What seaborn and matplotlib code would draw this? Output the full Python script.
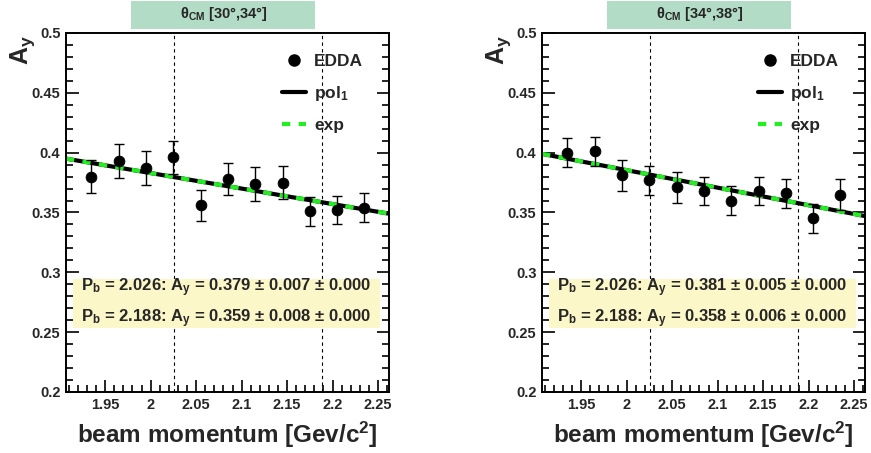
import numpy as np
import pandas as pd
import matplotlib
matplotlib.use("Agg")
import matplotlib.pyplot as plt
import seaborn as sns
from matplotlib.lines import Line2D
from matplotlib.patches import Rectangle
from matplotlib.ticker import MultipleLocator

# data
momentum = [1.935, 1.965, 1.995, 2.025, 2.055, 2.085, 2.115, 2.145, 2.175, 2.205, 2.235]

ay_left = [0.380, 0.393, 0.387, 0.396, 0.356, 0.378, 0.374, 0.375, 0.351, 0.352, 0.354]
err_left = [0.014, 0.014, 0.014, 0.014, 0.013, 0.013, 0.014, 0.014, 0.012, 0.012, 0.012]

ay_right = [0.400, 0.401, 0.381, 0.377, 0.371, 0.368, 0.360, 0.368, 0.366, 0.345, 0.365]
err_right = [0.012, 0.012, 0.013, 0.012, 0.013, 0.012, 0.012, 0.012, 0.012, 0.012, 0.013]

fit_x = [1.907, 2.262]
fit_left = [0.395, 0.349]
fit_right = [0.399, 0.347]

pb_lines = [2.026, 2.188]

titles = ["$\\mathbf{\\theta_{CM}}$ [30°,34°]", "$\\mathbf{\\theta_{CM}}$ [34°,38°]"]
results_left = [("2.026", "0.379", "0.007", "0.000"), ("2.188", "0.359", "0.008", "0.000")]
results_right = [("2.026", "0.381", "0.005", "0.000"), ("2.188", "0.358", "0.006", "0.000")]

sns.set_theme(style="ticks")
plt.rcParams["font.family"] = ["Liberation Sans", "DejaVu Sans"]
plt.rcParams["font.weight"] = "bold"
plt.rcParams["mathtext.fontset"] = "custom"
plt.rcParams["mathtext.rm"] = "Liberation Sans:bold"
plt.rcParams["mathtext.it"] = "Liberation Sans:bold"
plt.rcParams["mathtext.bf"] = "Liberation Sans:bold"

fig = plt.figure(figsize=(8.71, 4.53), dpi=100)
panels = [
    (0.0758, ay_left, err_left, fit_left, titles[0], results_left),
    (0.6223, ay_right, err_right, fit_right, titles[1], results_right),
]

fmt = plt.FuncFormatter(lambda v, p: ("%.2f" % v).rstrip("0").rstrip("."))

for left, ay, err, fit, title, results in panels:
    ax = fig.add_axes([left, 0.1347, 0.3708, 0.7925])
    df = pd.DataFrame({"p": momentum, "ay": ay, "err": err})
    fitdf = pd.DataFrame({"p": fit_x, "ay": fit})

    for xv in pb_lines:
        ax.axvline(xv, color="black", ls=(0, (3, 3)), lw=0.8, zorder=1)

    ax.errorbar(df["p"], df["ay"], yerr=df["err"], fmt="none", ecolor="black",
                elinewidth=1.0, capsize=3.5, capthick=1.0, zorder=3)
    sns.scatterplot(data=df, x="p", y="ay", ax=ax, color="black", s=60,
                    edgecolor="black", zorder=4, legend=False)
    sns.lineplot(data=fitdf, x="p", y="ay", ax=ax, color="black", lw=3, zorder=2)
    sns.lineplot(data=fitdf, x="p", y="ay", ax=ax, color="#22ee22", lw=3,
                 zorder=2.5).lines[-1].set_dashes((2, 2))

    ax.set_xlim(1.907, 2.262)
    ax.set_ylim(0.2, 0.5)
    ax.xaxis.set_major_locator(MultipleLocator(0.05))
    ax.xaxis.set_minor_locator(MultipleLocator(0.01))
    ax.yaxis.set_major_locator(MultipleLocator(0.05))
    ax.yaxis.set_minor_locator(MultipleLocator(0.01))
    ax.xaxis.set_major_formatter(fmt)
    ax.yaxis.set_major_formatter(fmt)
    ax.tick_params(which="both", direction="in", right=True, top=False,
                   labelsize=10.5, width=1.2, color="black", pad=4)
    ax.tick_params(which="major", length=9)
    ax.tick_params(which="minor", length=5)
    for lbl in ax.get_xticklabels() + ax.get_yticklabels():
        lbl.set_fontweight("bold")
    for sp in ax.spines.values():
        sp.set_linewidth(1.4)
        sp.set_color("black")

    ax.set_xlabel("beam momentum [Gev/c$^2$]", fontsize=17.5, fontweight="bold", labelpad=6)
    ax.set_ylabel("")
    ax.text(-0.135, 0.995, "A$_y$", transform=ax.transAxes, rotation=90,
            fontsize=18, fontweight="bold", ha="center", va="top")

    # legend
    handles = [
        Line2D([], [], marker="o", color="black", ls="none", markersize=8),
        Line2D([], [], color="black", lw=3),
        Line2D([], [], color="#22ee22", lw=3, dashes=(2, 2)),
    ]
    leg = ax.legend(handles, ["EDDA", "pol$_1$", "exp"], loc="upper left",
                    bbox_to_anchor=(0.62, 0.985), frameon=False, fontsize=12.5,
                    handlelength=1.4, handletextpad=0.45, labelspacing=0.85)
    for t in leg.get_texts():
        t.set_fontweight("bold")

    # fit results box
    ax.add_patch(Rectangle((0.022, 0.178), 0.95, 0.137, transform=ax.transAxes,
                           fc="#fbf7c8", ec="none", zorder=4.5))
    lines = "\n".join(
        "P$_b$ = %s: A$_y$ = %s $\\pm$ %s $\\pm$ %s" % r for r in results
    )
    ax.text(0.497, 0.247, lines, transform=ax.transAxes, ha="center", va="center",
            fontsize=12, fontweight="bold", linespacing=1.55, zorder=5)

    # title box
    ax.add_patch(Rectangle((0.202, 1.012), 0.57, 0.078, transform=ax.transAxes,
                           fc="#b2dcc6", ec="none", clip_on=False, zorder=5))
    ax.text(0.487, 1.052, title, transform=ax.transAxes, ha="center", va="center",
            fontsize=10.5, fontweight="bold", zorder=6)

fig.savefig("out.png", dpi=100)
